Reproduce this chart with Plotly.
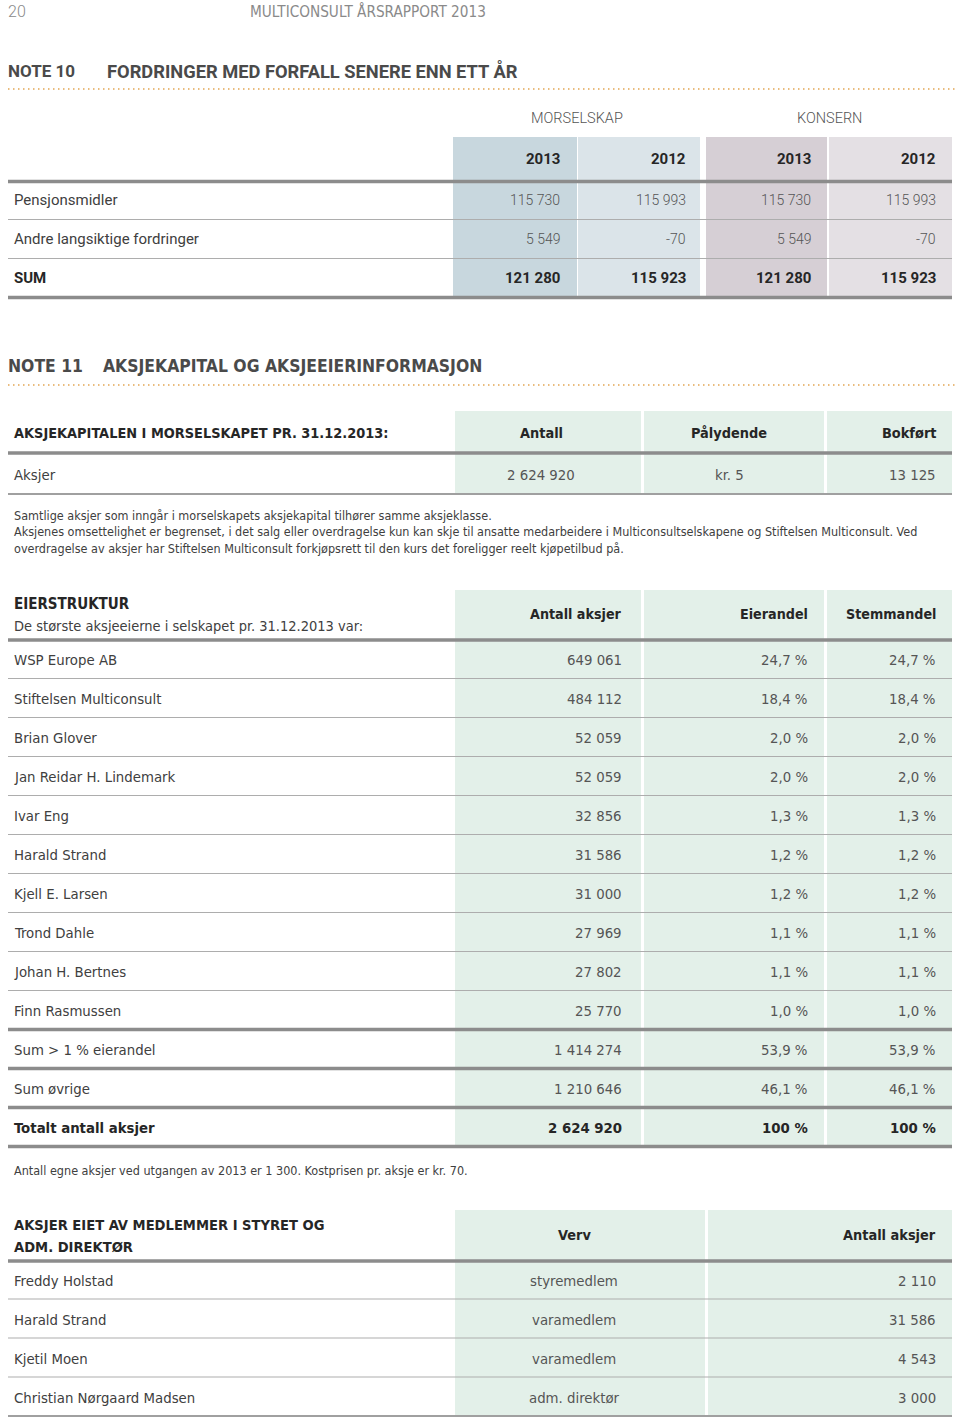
import plotly.graph_objects as go

# ---------------- DATA ----------------
page_number = "20"
page_title = "MULTICONSULT ÅRSRAPPORT 2013"

note10_label = "NOTE 10"
note10_title = "FORDRINGER MED FORFALL SENERE ENN ETT ÅR"
note10_groups = ["MORSELSKAP", "KONSERN"]
note10_years = ["2013", "2012", "2013", "2012"]
note10_rows = ["Pensjonsmidler", "Andre langsiktige fordringer", "SUM"]
note10_values = [
    [115730, 115993, 115730, 115993],
    [5549, -70, 5549, -70],
    [121280, 115923, 121280, 115923],
]

note11_label = "NOTE 11"
note11_title = "AKSJEKAPITAL OG AKSJEEIERINFORMASJON"
aksjekapital_title = "AKSJEKAPITALEN I MORSELSKAPET PR. 31.12.2013:"
aksjekapital_headers = ["Antall", "Pålydende", "Bokført"]
aksjekapital_row = "Aksjer"
aksjekapital_antall = 2624920
aksjekapital_palydende = 5
aksjekapital_bokfort = 13125

paragraph_lines = [
    "Samtlige aksjer som inngår i morselskapets aksjekapital tilhører samme aksjeklasse.",
    "Aksjenes omsettelighet er begrenset, i det salg eller overdragelse kun kan skje til ansatte medarbeidere i Multiconsultselskapene og Stiftelsen Multiconsult. Ved",
    "overdragelse av aksjer har Stiftelsen Multiconsult forkjøpsrett til den kurs det foreligger reelt kjøpetilbud på.",
]

eier_title = "EIERSTRUKTUR"
eier_subtitle = "De største aksjeeierne i selskapet pr. 31.12.2013 var:"
eier_headers = ["Antall aksjer", "Eierandel", "Stemmandel"]
eier_names = ["WSP Europe AB", "Stiftelsen Multiconsult", "Brian Glover", "Jan Reidar H. Lindemark",
              "Ivar Eng", "Harald Strand", "Kjell E. Larsen", "Trond Dahle", "Johan H. Bertnes",
              "Finn Rasmussen", "Sum > 1 % eierandel", "Sum øvrige", "Totalt antall aksjer"]
eier_antall = [649061, 484112, 52059, 52059, 32856, 31586, 31000, 27969, 27802, 25770,
               1414274, 1210646, 2624920]
eier_andel = [24.7, 18.4, 2.0, 2.0, 1.3, 1.2, 1.2, 1.1, 1.1, 1.0, 53.9, 46.1, 100]
eier_stemme = [24.7, 18.4, 2.0, 2.0, 1.3, 1.2, 1.2, 1.1, 1.1, 1.0, 53.9, 46.1, 100]

egne_aksjer_note = "Antall egne aksjer ved utgangen av 2013 er 1 300. Kostprisen pr. aksje er kr. 70."

styre_title = ["AKSJER EIET AV MEDLEMMER I STYRET OG", "ADM. DIREKTØR"]
styre_headers = ["Verv", "Antall aksjer"]
styre_names = ["Freddy Holstad", "Harald Strand", "Kjetil Moen", "Christian Nørgaard Madsen"]
styre_verv = ["styremedlem", "varamedlem", "varamedlem", "adm. direktør"]
styre_antall = [2110, 31586, 4543, 3000]

# ---------------- STYLE ----------------
W, H = 960, 1420
WIDE = "Roboto, 'Open Sans', sans-serif"
NARROW = "'Liberation Sans Narrow', 'DejaVu Sans Condensed', Roboto, sans-serif"
C_TEXT = "#404040"
C_NUM = "#555555"
C_BOLD = "#262626"
C_HEAD = "#4a4a4a"
C_GREY = "#8a8a8a"
THICK = "#8c8c8c"
THIN = "#adadad"
DOTS = "#e2a552"
GREEN = "#e3f0e9"
N10_COLS = ["#c8d7de", "#dbe4e9", "#d6cfd5", "#e4e0e4"]

ROW = 14.8      # narrow body rows
HEAD = 14.4     # narrow bold headers
PARA = 12.5     # narrow paragraph text


def fmt_int(n):
    return f"{n:,}".replace(",", " ")


def fmt_pct(p, total=False):
    if total:
        return f"{p:.0f} %"
    return f"{p:.1f}".replace(".", ",") + " %"


annotations = []
shapes = []


def txt(x, y, s, size, color, family, weight=400, anchor="left"):
    # compensate the annotation's own padding so the glyphs sit on x
    if anchor == "left":
        x -= 2
    elif anchor == "right":
        x += 2
    annotations.append(dict(x=x, y=y, xref="x", yref="y", text=s, showarrow=False,
                            xanchor=anchor, yanchor="middle",
                            font=dict(size=size, color=color, family=family, weight=weight)))


def rect(x0, x1, y0, y1, color):
    shapes.append(dict(type="rect", xref="x", yref="y", x0=x0, x1=x1, y0=y0, y1=y1,
                       fillcolor=color, line=dict(width=0), layer="below"))


def hline(y, width, color, x0=8, x1=952, dash="solid"):
    shapes.append(dict(type="line", xref="x", yref="y", x0=x0, x1=x1, y0=y, y1=y,
                       line=dict(color=color, width=width, dash=dash), layer="above"))


# ---------------- PAGE HEADER ----------------
txt(8, 11, page_number, 16, C_GREY, WIDE, 300)
txt(250, 11, page_title, 15.2, C_GREY, NARROW)

# ---------------- NOTE 10 ----------------
txt(8, 71, note10_label, 17, C_HEAD, WIDE, 700)
txt(107, 71, note10_title, 18.3, C_HEAD, WIDE, 700)
hline(89, 1.5, DOTS, 8, 955, dash="1.5px,3.5px")

n10_x = [(453, 577), (578, 700), (706, 827), (829, 952)]
n10_right = [560, 686, 811, 936]
n10_top, n10_head_y, n10_row0, n10_pitch = 137, 159, 200, 39
n10_bottom = n10_row0 + n10_pitch * (len(note10_rows) - 1) + 19
for (x0, x1), c in zip(n10_x, N10_COLS):
    rect(x0, x1, n10_top, n10_bottom, c)
for gi, g in enumerate(note10_groups):
    cx = (n10_x[2 * gi][0] + n10_x[2 * gi + 1][1]) / 2
    txt(cx, 118, g, 14.5, "#555555", WIDE, 300, "center")
for yr, rx in zip(note10_years, n10_right):
    txt(rx, n10_head_y, yr, 15, C_BOLD, WIDE, 700, "right")
hline(181.5, 3.5, THICK)
for i, (lab, vals) in enumerate(zip(note10_rows, note10_values)):
    y = n10_row0 + i * n10_pitch
    is_sum = i == len(note10_rows) - 1
    txt(14, y, lab, 15, C_BOLD if is_sum else C_TEXT, WIDE, 700 if is_sum else 400)
    for v, rx in zip(vals, n10_right):
        txt(rx, y, fmt_int(v), 15 if is_sum else 14, C_BOLD if is_sum else C_NUM, WIDE,
            700 if is_sum else 300, "right")
    if is_sum:
        hline(y + 19.5, 3.5, THICK)
    else:
        hline(y + 19.5, 1.2, THIN)

# ---------------- NOTE 11 ----------------
txt(8, 366, note11_label, 17.4, C_HEAD, NARROW, 700)
txt(103, 366, note11_title, 17.4, C_HEAD, NARROW, 700)
hline(385, 1.5, DOTS, 8, 955, dash="1.5px,3.5px")

g_cols = [(455, 641), (644, 824), (827, 952)]
for x0, x1 in g_cols:
    rect(x0, x1, 411, 494, GREEN)
txt(14, 433, aksjekapital_title, HEAD, C_BOLD, NARROW, 700)
ak_cx = [541, 729]
txt(ak_cx[0], 433, aksjekapital_headers[0], HEAD, C_BOLD, NARROW, 700, "center")
txt(ak_cx[1], 433, aksjekapital_headers[1], HEAD, C_BOLD, NARROW, 700, "center")
txt(936, 433, aksjekapital_headers[2], HEAD, C_BOLD, NARROW, 700, "right")
hline(453, 3.5, THICK)
txt(14, 474, aksjekapital_row, ROW, C_TEXT, NARROW)
txt(ak_cx[0], 474, fmt_int(aksjekapital_antall), ROW, C_NUM, NARROW, 400, "center")
txt(ak_cx[1], 474, f"kr. {aksjekapital_palydende}", ROW, C_NUM, NARROW, 400, "center")
txt(936, 474, fmt_int(aksjekapital_bokfort), ROW, C_NUM, NARROW, 400, "right")
hline(494, 2, "#a0a0a0")

for i, line in enumerate(paragraph_lines):
    txt(14, 515 + i * 16.5, line, PARA, C_TEXT, NARROW)

# Eierstruktur
e_top, e_head_line, e_row0, e_pitch = 590, 640, 659, 39
e_bottom = e_row0 + e_pitch * (len(eier_names) - 1) + 20
for x0, x1 in g_cols:
    rect(x0, x1, e_top, e_bottom, GREEN)
txt(14, 604, eier_title, 15, C_BOLD, NARROW, 700)
txt(14, 626, eier_subtitle, 14.5, C_TEXT, NARROW)
e_right = [622, 808, 936]
for h, rx in zip(eier_headers, e_right):
    txt(rx, 614, h, 14.2, C_BOLD, NARROW, 700, "right")
hline(e_head_line, 3.5, THICK)
n_e = len(eier_names)
for i in range(n_e):
    y = e_row0 + i * e_pitch
    total = i == n_e - 1
    col = C_BOLD if total else C_TEXT
    wt = 700 if total else 400
    sz = 14.8 if total else ROW
    txt(14, y, eier_names[i], sz, col, NARROW, wt)
    txt(e_right[0], y, fmt_int(eier_antall[i]), sz, C_BOLD if total else C_NUM, NARROW, wt, "right")
    txt(e_right[1], y, fmt_pct(eier_andel[i], total), sz, C_BOLD if total else C_NUM, NARROW, wt, "right")
    txt(e_right[2], y, fmt_pct(eier_stemme[i], total), sz, C_BOLD if total else C_NUM, NARROW, wt, "right")
    if i >= n_e - 4:
        hline(y + 19.5, 3.5, THICK)
    else:
        hline(y + 19.5, 1.2, THIN)

txt(14, 1170, egne_aksjer_note, PARA, C_TEXT, NARROW)

# Styre
s_cols = [(455, 705), (708, 952)]
s_top, s_head_line, s_row0, s_pitch = 1210, 1261, 1280, 39
s_bottom = s_row0 + s_pitch * (len(styre_names) - 1) + 19
for x0, x1 in s_cols:
    rect(x0, x1, s_top, s_bottom, GREEN)
txt(14, 1224, styre_title[0], 14.6, C_BOLD, NARROW, 700)
txt(14, 1246, styre_title[1], 14.6, C_BOLD, NARROW, 700)
txt(574, 1235, styre_headers[0], HEAD, C_BOLD, NARROW, 700, "center")
txt(936, 1235, styre_headers[1], HEAD, C_BOLD, NARROW, 700, "right")
hline(s_head_line, 3.5, THICK)
for i in range(len(styre_names)):
    y = s_row0 + i * s_pitch
    txt(14, y, styre_names[i], ROW, C_TEXT, NARROW)
    txt(574, y, styre_verv[i], ROW, C_NUM, NARROW, 400, "center")
    txt(936, y, fmt_int(styre_antall[i]), ROW, C_NUM, NARROW, 400, "right")
    last = i == len(styre_names) - 1
    hline(y + 19, 2.2 if last else 1.2, "#a0a0a0" if last else THIN)

fig = go.Figure()
fig.add_trace(go.Scatter(x=[0, W], y=[0, H], mode="markers", marker=dict(opacity=0),
                         hoverinfo="skip", showlegend=False))
fig.update_layout(
    width=W, height=H, margin=dict(l=0, r=0, t=0, b=0),
    paper_bgcolor="white", plot_bgcolor="white",
    xaxis=dict(range=[0, W], visible=False, fixedrange=True),
    yaxis=dict(range=[H, 0], visible=False, fixedrange=True),
    annotations=annotations, shapes=shapes, showlegend=False,
)
fig.write_html("out.html", config={"displayModeBar": False},
               post_script="document.body.style.margin='0px';document.body.style.overflow='hidden';")
